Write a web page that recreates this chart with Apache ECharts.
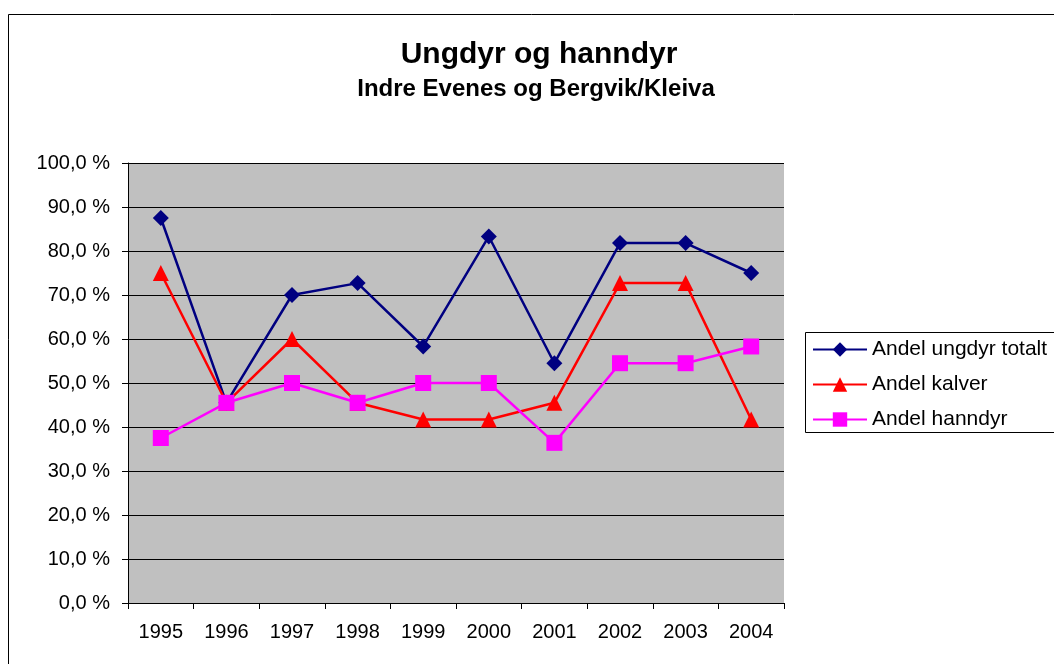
<!DOCTYPE html>
<html><head><meta charset="utf-8">
<script src="https://cdn.jsdelivr.net/npm/echarts@6/dist/echarts.min.js"></script>
<style>html,body{margin:0;padding:0;background:#fff}#c{width:1054px;height:664px}</style>
</head><body><div id="c"></div>
<script>
const years = ['1995','1996','1997','1998','1999','2000','2001','2002','2003','2004'];
const ungdyr = [87.5, 45.5, 70.0, 72.7, 58.3, 83.3, 54.5, 81.8, 81.8, 75.0];
const kalver = [75.0, 45.5, 60.0, 45.5, 41.7, 41.7, 45.5, 72.7, 72.7, 41.7];
const hanndyr = [37.5, 45.5, 50.0, 45.5, 50.0, 50.0, 36.4, 54.5, 54.5, 58.3];
const seriesNames = ['Andel ungdyr totalt', 'Andel kalver', 'Andel hanndyr'];

const font = 'Liberation Sans, Arial, sans-serif';
const chart = echarts.init(document.getElementById('c'));
chart.setOption({
  animation: false,
  backgroundColor: '#fff',
  textStyle: {fontFamily: font},
  title: [
    {text: 'Ungdyr og hanndyr', left: 539, top: 40, textAlign: 'center', padding: 0,
     textStyle: {fontSize: 30, fontWeight: 'bold', color: '#000', fontFamily: font}},
    {text: 'Indre Evenes og Bergvik/Kleiva', left: 536, top: 77, textAlign: 'center', padding: 0,
     textStyle: {fontSize: 24, fontWeight: 'bold', color: '#000', fontFamily: font}}
  ],
  graphic: [
    {type: 'rect', shape: {x: 8.5, y: 14.5, width: 1100, height: 700}, silent: true, z: -10,
     style: {fill: 'none', stroke: '#000', lineWidth: 1}},
    {type: 'rect', shape: {x: 805.5, y: 332.5, width: 300, height: 100}, silent: true, z: 0,
     style: {fill: '#fff', stroke: '#000', lineWidth: 1}}
  ],
  legend: {
    orient: 'vertical', left: 812, top: 339, padding: 0, itemWidth: 54, itemHeight: 18, itemGap: 14,
    textStyle: {fontSize: 21, lineHeight: 21, color: '#000', fontFamily: font},
    data: seriesNames, z: 5
  },
  grid: {left: 128, top: 163, width: 656, height: 440, show: true, backgroundColor: '#C0C0C0', borderWidth: 0},
  xAxis: {
    type: 'category', data: years, boundaryGap: true,
    axisLine: {lineStyle: {color: '#000', width: 1}},
    axisTick: {show: true, length: 6, lineStyle: {color: '#000'}},
    axisLabel: {fontSize: 20, color: '#000', margin: 19, fontFamily: font},
    splitLine: {show: false}
  },
  yAxis: {
    type: 'value', min: 0, max: 100, interval: 10,
    axisLine: {show: true, lineStyle: {color: '#000', width: 1}},
    axisTick: {show: true, length: 6, lineStyle: {color: '#000'}},
    axisLabel: {fontSize: 20, color: '#000', margin: 18, fontFamily: font,
      formatter: v => v.toFixed(1).replace('.', ',') + ' %'},
    splitLine: {show: true, lineStyle: {color: '#000', width: 1}}
  },
  series: [
    {name: seriesNames[0], type: 'line', data: ungdyr, symbol: 'diamond', symbolSize: 16,
     lineStyle: {color: '#000080', width: 2.5}, itemStyle: {color: '#000080'}, z: 3},
    {name: seriesNames[1], type: 'line', data: kalver, symbol: 'triangle', symbolSize: 16,
     lineStyle: {color: '#FF0000', width: 2.5}, itemStyle: {color: '#FF0000'}, z: 4},
    {name: seriesNames[2], type: 'line', data: hanndyr, symbol: 'rect', symbolSize: 16,
     lineStyle: {color: '#FF00FF', width: 2.5}, itemStyle: {color: '#FF00FF'}, z: 5}
  ]
});
</script></body></html>
